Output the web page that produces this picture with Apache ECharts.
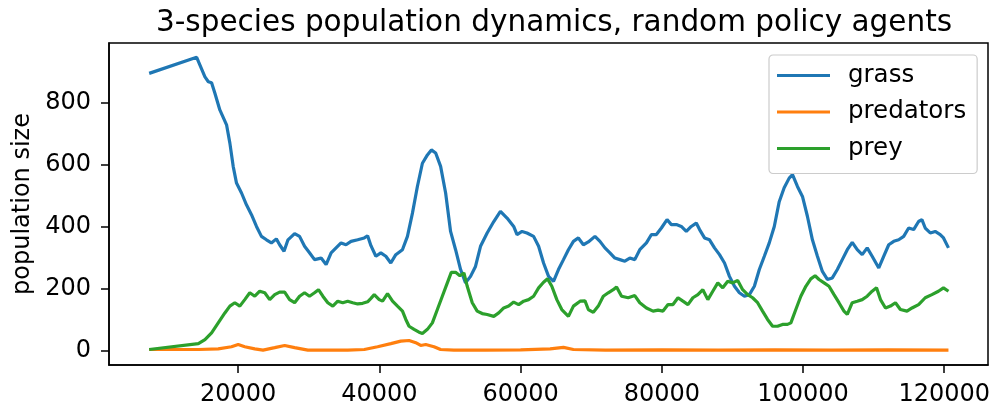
<!DOCTYPE html>
<html>
<head>
<meta charset="utf-8">
<script src="https://cdn.jsdelivr.net/npm/echarts@6/dist/echarts.min.js"></script>
<style>
  html, body { margin: 0; padding: 0; background: #fff; }
  #chart { width: 995px; height: 410px; }
</style>
</head>
<body>
<div id="chart"></div>
<script>
// Simulation step at which each population count was recorded
const grassSteps = [7390,14118,15290,15770,16230,16700,17400,18350,18820,19290,19760,20470,21170,21880,22590,23290,24000,24700,25400,25870,26490,27050,27990,28690,29400,30100,30810,31750,32450,33160,33860,34570,35270,35980,36920,37860,38330,38800,39500,40200,40910,41610,42320,43260,43970,44680,45380,46090,46800,47360,47970,48670,49380,50080,50790,51500,52200,52910,53610,54320,55260,56200,57140,58080,59020,59490,60200,60900,61840,62550,63250,63960,64660,65360,66070,66770,67480,68180,68890,69590,70530,71240,71940,72650,73350,74060,74760,75470,76170,76880,77820,78530,79230,79940,80740,81350,82060,82760,83470,84170,84880,85350,86050,86760,87460,88170,88880,89580,90290,90990,91700,92400,93110,93810,94520,95220,95930,96630,97330,98040,98510,99210,99920,100620,101330,102040,102740,103450,104150,104860,105560,106270,106970,107680,108380,109090,109790,110730,111440,112140,112850,113550,114260,114960,115670,116370,116840,117310,118020,118720,119430,119900,120600];
const grassCounts = [894,946,883,867,864,830,776,728,669,594,540,508,470,438,400,368,357,347,360,341,320,357,377,368,336,315,293,298,277,315,331,347,341,352,357,363,370,338,304,315,304,282,309,325,368,443,529,604,631,647,637,594,508,384,325,261,218,239,271,336,379,416,449,427,400,374,384,379,368,336,282,239,223,261,293,325,352,363,341,350,368,352,331,315,298,293,288,298,293,325,347,374,374,395,422,406,406,400,384,400,411,390,363,357,331,309,282,239,207,186,175,180,207,261,304,347,400,480,525,556,567,529,497,433,357,304,255,229,234,261,293,325,349,325,309,331,304,266,304,341,352,357,368,395,390,416,422,395,379,384,374,363,331];

const predatorSteps = [7390,14360,17170,19050,20000,20930,22350,23520,25170,26580,27990,29870,32690,35510,37860,39740,41620,43030,44200,45150,45850,46560,47730,48670,50550,55000,60000,64180,66070,67480,72000,80000,88000,96000,104000,112000,120600];
const predatorCounts = [3,3,5,12,19,12,5,1,9,16,9,1,1,1,3,12,22,30,32,25,16,19,12,3,1,1,2,5,10,3,1,2,1,2,1,2,1];

const preySteps = [7390,14360,15290,16230,17170,18110,18820,19520,20230,20930,21640,22350,23050,23760,24460,25170,25870,26580,27280,27990,28690,29400,30100,30810,31370,31990,32690,33400,34100,34810,35510,36220,36920,37630,38330,38800,39270,39970,40450,41150,41860,42560,43270,43740,44200,44910,45610,46090,46800,47500,48210,48910,49620,50180,50790,51400,51970,52440,53150,53850,54560,55260,56200,56900,57610,58310,59020,59720,60430,61130,61840,62550,63250,63820,64420,65130,65830,66770,67480,68420,69120,69590,70300,71000,71710,72410,73120,73590,74300,75240,76170,76880,77820,78760,79470,80170,80880,81580,82290,82990,83700,84400,85110,85810,86520,87220,87930,88630,89340,90040,90750,91450,92160,92860,93570,94270,94980,95690,96390,97100,97800,98280,98980,99690,100400,101100,101710,102270,102980,103680,104390,105090,105800,106270,106970,107680,108380,109090,109790,110410,110970,111680,112380,113090,113790,114730,115440,116370,117310,118250,119180,119890,120600];
const preyCounts = [3,22,35,57,89,121,143,154,143,164,186,175,191,186,164,180,188,188,164,154,175,186,175,186,196,175,154,143,159,154,159,154,150,152,157,168,180,164,159,183,159,143,127,100,78,68,59,55,68,89,132,175,218,252,252,241,250,207,154,127,119,116,110,121,137,143,156,148,159,164,175,202,220,231,207,164,132,110,143,159,160,132,123,143,175,186,196,205,175,170,177,154,137,127,130,127,148,148,170,159,148,170,180,196,164,191,218,202,223,218,226,196,180,170,154,127,100,78,78,84,84,89,132,175,207,231,241,229,218,207,180,154,127,116,154,159,164,175,191,202,164,137,143,154,132,127,137,148,170,180,191,202,191];

const xTicks = [20000, 40000, 60000, 80000, 100000, 120000];
const yTicks = [0, 200, 400, 600, 800];

const seriesNames = ['grass', 'predators', 'prey'];
const seriesColors = ['#1f77b4', '#ff7f0e', '#2ca02c'];

const pair = (xs, ys) => xs.map((x, i) => [x, ys[i]]);
const seriesData = [
  pair(grassSteps, grassCounts),
  pair(predatorSteps, predatorCounts),
  pair(preySteps, preyCounts)
];

const FONT = 'DejaVu Sans';
const chart = echarts.init(document.getElementById('chart'), null, { renderer: 'canvas' });

chart.setOption({
  animation: false,
  backgroundColor: '#fff',
  title: {
    text: '3-species population dynamics, random policy agents',
    left: 549,
    top: 3,
    textAlign: 'center',
    textStyle: { fontFamily: FONT, fontSize: 29.5, fontWeight: 'normal', color: '#000' }
  },
  grid: {
    left: 109, right: 7, top: 43, bottom: 45,
    show: true, borderColor: '#000', borderWidth: 1.5, backgroundColor: '#fff'
  },
  legend: {
    orient: 'vertical',
    left: 769,
    top: 55,
    icon: 'rect',
    itemWidth: 53,
    itemHeight: 3,
    itemGap: 11.5,
    padding: [8, 11, 12.5, 8],
    backgroundColor: 'rgba(255,255,255,0.8)',
    borderColor: '#cccccc',
    borderWidth: 1.2,
    borderRadius: 4,
    textStyle: { fontFamily: FONT, fontSize: 24.5, color: '#000', padding: [0, 0, 0, 13] },
    data: seriesNames
  },
  xAxis: {
    type: 'value',
    min: 1700,
    max: 126200,
    splitLine: { show: false },
    axisLine: { show: true, onZero: false, lineStyle: { color: '#000', width: 1.5 } },
    axisTick: { show: true, length: 8, lineStyle: { color: '#000', width: 1.5 }, customValues: xTicks },
    axisLabel: {
      fontFamily: FONT, fontSize: 24, color: '#000', margin: 18,
      customValues: xTicks, formatter: v => String(v)
    }
  },
  yAxis: {
    type: 'value',
    min: -47,
    max: 992,
    name: 'population size',
    nameLocation: 'middle',
    nameGap: 73,
    nameTextStyle: { fontFamily: FONT, fontSize: 24, color: '#000' },
    splitLine: { show: false },
    axisLine: { show: true, onZero: false, lineStyle: { color: '#000', width: 1.5 } },
    axisTick: { show: true, length: 8, lineStyle: { color: '#000', width: 1.5 }, customValues: yTicks },
    axisLabel: {
      fontFamily: FONT, fontSize: 24, color: '#000', margin: 18,
      customValues: yTicks, formatter: v => String(v)
    }
  },
  series: seriesNames.map((name, i) => ({
    name,
    type: 'line',
    data: seriesData[i],
    showSymbol: false,
    symbol: 'none',
    smooth: false,
    lineStyle: { color: seriesColors[i], width: 3.2 },
    itemStyle: { color: seriesColors[i] },
    z: 2 + i
  }))
});
</script>
</body>
</html>
